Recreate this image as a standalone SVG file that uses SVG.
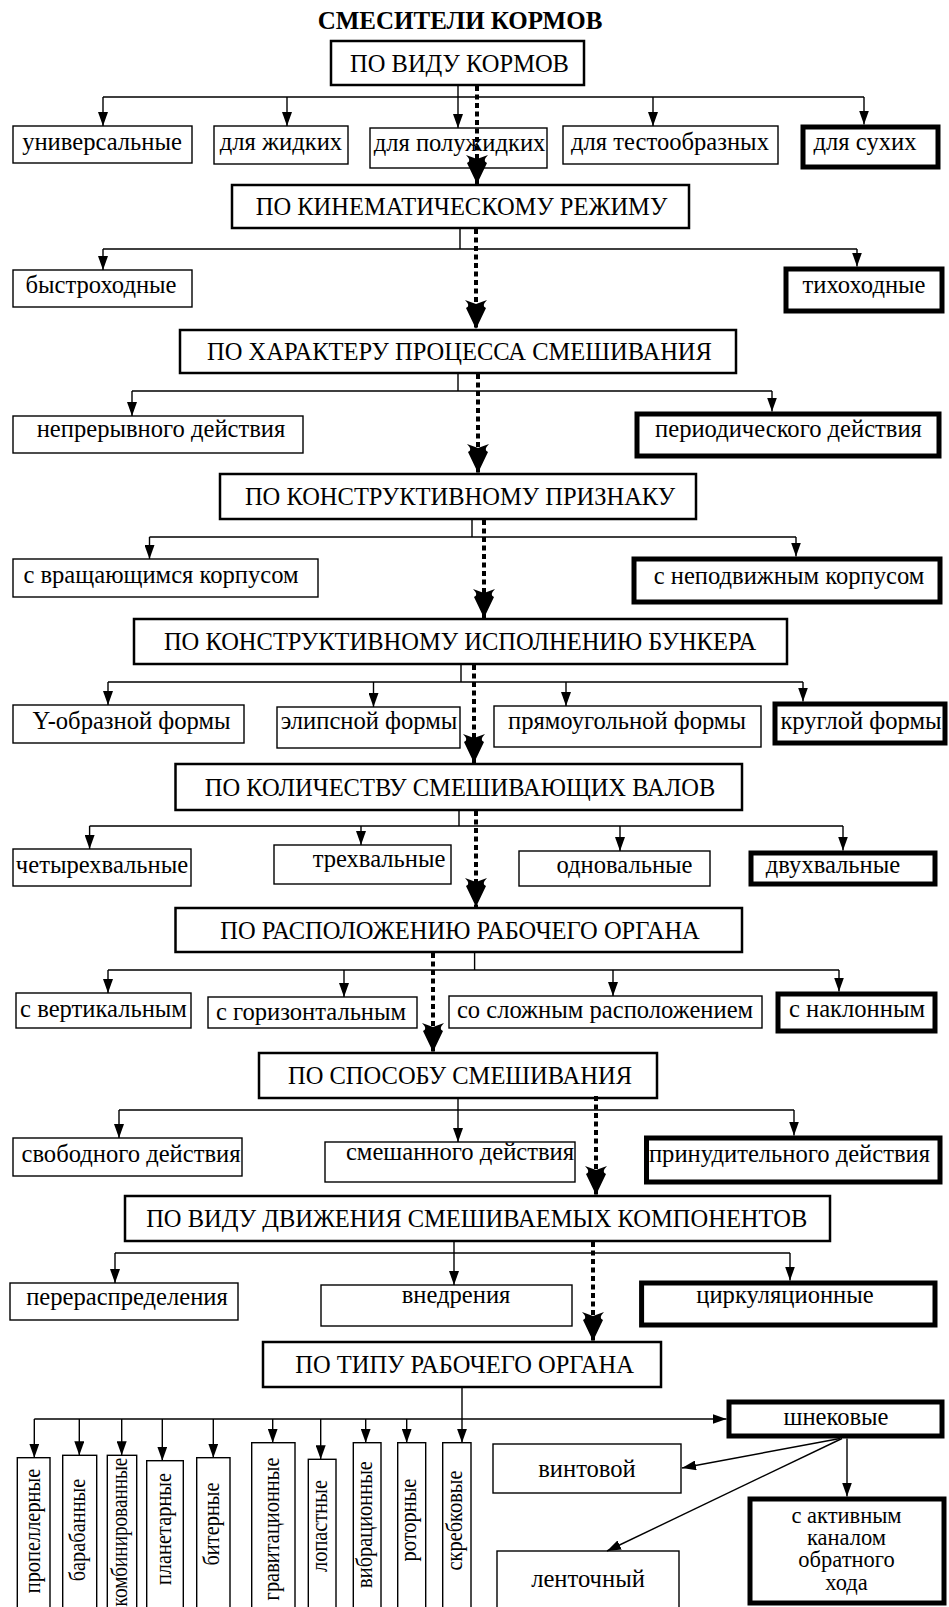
<svg xmlns="http://www.w3.org/2000/svg" width="949" height="1607" viewBox="0 0 949 1607">
<style>
.main{fill:#fff;stroke:#000;stroke-width:2.5}
.sub{fill:#fff;stroke:#000;stroke-width:1.4}
.thick{fill:#fff;stroke:#000;stroke-width:5}
text{font-family:"Liberation Serif","Times New Roman",serif;font-size:24.6px;fill:#000;text-anchor:middle}
.hd{font-size:24.5px}
.vt{font-size:24px}
.sm{font-size:22.5px}
.ttl{font-weight:bold;font-size:25px}
.ln{stroke:#000;stroke-width:1.4;fill:none}
.ar{stroke:#000;stroke-width:1.4;fill:none;marker-end:url(#a)}
.dot{stroke:#000;stroke-width:4;stroke-dasharray:5 3.5;fill:none;marker-end:url(#big)}
</style>
<defs>
<marker id="a" viewBox="0 0 14 10" refX="14" refY="5" markerWidth="14" markerHeight="10" markerUnits="userSpaceOnUse" orient="auto"><path d="M0,0 L14,5 L0,10 Z" fill="#000"/></marker>
<marker id="big" viewBox="0 0 29 22" refX="29" refY="11" markerWidth="29" markerHeight="22" markerUnits="userSpaceOnUse" orient="auto"><path d="M0,0 Q6,6 8,1 L29,11 L8,21 Q6,16 0,22 L4,11 Z" fill="#000"/></marker>
</defs>
<rect width="949" height="1607" fill="#fff"/>
<text class="ttl" x="460" y="29">СМЕСИТЕЛИ КОРМОВ</text>
<g id="nodes">
<g id="n1"><rect class="main" x="331" y="41" width="253" height="44"/><text class="hd" x="459.5" y="71.5">ПО ВИДУ КОРМОВ</text></g>
<g id="n1a"><rect class="sub" x="13" y="126" width="179" height="37"/><text x="102" y="150">универсальные</text></g>
<g id="n1b"><rect class="sub" x="214" y="126" width="134" height="38"/><text x="281" y="150">для жидких</text></g>
<g id="n1c"><rect class="sub" x="370" y="128" width="177" height="40"/><text x="459.5" y="151">для полужидких</text></g>
<g id="n1d"><rect class="sub" x="563" y="126" width="215" height="38"/><text x="670" y="150">для тестообразных</text></g>
<g id="n1e"><rect class="thick" x="803" y="127" width="135" height="40"/><text x="865" y="150">для сухих</text></g>

<g id="n2"><rect class="main" x="232" y="185" width="457" height="43"/><text class="hd" x="461.5" y="215">ПО КИНЕМАТИЧЕСКОМУ РЕЖИМУ</text></g>
<g id="n2a"><rect class="sub" x="13" y="270" width="179" height="37"/><text x="101" y="293">быстроходные</text></g>
<g id="n2b"><rect class="thick" x="786" y="269" width="156" height="42"/><text x="864" y="293">тихоходные</text></g>

<g id="n3"><rect class="main" x="180" y="330" width="556" height="43"/><text class="hd" x="459.5" y="360">ПО ХАРАКТЕРУ ПРОЦЕССА СМЕШИВАНИЯ</text></g>
<g id="n3a"><rect class="sub" x="13" y="416" width="290" height="37"/><text x="161" y="437">непрерывного действия</text></g>
<g id="n3b"><rect class="thick" x="637" y="414" width="302" height="42"/><text x="788.5" y="437">периодического действия</text></g>

<g id="n4"><rect class="main" x="220" y="474" width="476" height="45"/><text class="hd" x="460" y="505">ПО КОНСТРУКТИВНОМУ ПРИЗНАКУ</text></g>
<g id="n4a"><rect class="sub" x="13" y="559" width="305" height="38"/><text x="161" y="583">с вращающимся корпусом</text></g>
<g id="n4b"><rect class="thick" x="634" y="559" width="306" height="43"/><text x="789" y="584">с неподвижным корпусом</text></g>

<g id="n5"><rect class="main" x="134" y="619" width="653" height="45"/><text class="hd" x="460" y="650">ПО КОНСТРУКТИВНОМУ ИСПОЛНЕНИЮ БУНКЕРА</text></g>
<g id="n5a"><rect class="sub" x="13" y="705" width="231" height="38"/><text x="131.6" y="729">Y-образной формы</text></g>
<g id="n5b"><rect class="sub" x="277" y="707" width="183" height="41"/><text x="369" y="729">элипсной формы</text></g>
<g id="n5c"><rect class="sub" x="494" y="706" width="267" height="41"/><text x="627" y="729">прямоугольной формы</text></g>
<g id="n5d"><rect class="thick" x="775" y="704" width="170" height="39"/><text x="861" y="729">круглой формы</text></g>

<g id="n6"><rect class="main" x="175.5" y="764" width="566.5" height="46"/><text class="hd" x="460" y="796">ПО КОЛИЧЕСТВУ СМЕШИВАЮЩИХ ВАЛОВ</text></g>
<g id="n6a"><rect class="sub" x="13" y="849" width="178" height="37"/><text x="102" y="873">четырехвальные</text></g>
<g id="n6b"><rect class="sub" x="274" y="845" width="177" height="39"/><text x="379" y="867">трехвальные</text></g>
<g id="n6c"><rect class="sub" x="519" y="851" width="191" height="35"/><text x="624.5" y="873">одновальные</text></g>
<g id="n6d"><rect class="thick" x="751" y="853" width="184" height="31"/><text x="833" y="873">двухвальные</text></g>

<g id="n7"><rect class="main" x="175.5" y="908" width="566.5" height="44"/><text class="hd" x="460" y="939">ПО РАСПОЛОЖЕНИЮ РАБОЧЕГО ОРГАНА</text></g>
<g id="n7a"><rect class="sub" x="16" y="993" width="175" height="35"/><text x="103.5" y="1017">с вертикальным</text></g>
<g id="n7b"><rect class="sub" x="208" y="997" width="209" height="31"/><text x="311" y="1020">с горизонтальным</text></g>
<g id="n7c"><rect class="sub" x="449" y="996" width="313" height="32"/><text x="605" y="1018">со сложным расположением</text></g>
<g id="n7d"><rect class="thick" x="778" y="994" width="157" height="37"/><text x="857" y="1017">с наклонным</text></g>

<g id="n8"><rect class="main" x="259" y="1053" width="398" height="45"/><text class="hd" x="460" y="1084">ПО СПОСОБУ СМЕШИВАНИЯ</text></g>
<g id="n8a"><rect class="sub" x="13" y="1138" width="229" height="38"/><text x="131" y="1162">свободного действия</text></g>
<g id="n8b"><rect class="sub" x="325" y="1142" width="250" height="40"/><text x="460" y="1160">смешанного действия</text></g>
<g id="n8c"><rect class="thick" x="646.5" y="1138" width="293.5" height="44"/><text x="789.5" y="1162">принудительного действия</text></g>

<g id="n9"><rect class="main" x="125" y="1196" width="705" height="45"/><text class="hd" x="476.7" y="1227">ПО ВИДУ ДВИЖЕНИЯ СМЕШИВАЕМЫХ КОМПОНЕНТОВ</text></g>
<g id="n9a"><rect class="sub" x="10" y="1283" width="228" height="37"/><text x="127" y="1305">перераспределения</text></g>
<g id="n9b"><rect class="sub" x="321" y="1285" width="251" height="41"/><text x="456" y="1303">внедрения</text></g>
<g id="n9c"><rect class="thick" x="641.6" y="1283" width="293.4" height="42"/><text x="785" y="1303">циркуляционные</text></g>

<g id="n10"><rect class="main" x="263" y="1342" width="398" height="45"/><text class="hd" x="464.6" y="1373">ПО ТИПУ РАБОЧЕГО ОРГАНА</text></g>
<g id="v1"><rect class="sub" x="17.3" y="1457.7" width="32.7" height="160"/><text class="vt" transform="translate(40,1531) rotate(-90) scale(0.85,1)">пропеллерные</text></g>
<g id="v2"><rect class="sub" x="62.7" y="1455.3" width="34" height="160"/><text class="vt" transform="translate(85,1530) rotate(-90) scale(0.85,1)">барабанные</text></g>
<g id="v3"><rect class="sub" x="107.3" y="1455.3" width="29.4" height="160"/><text class="vt" transform="translate(127,1532) rotate(-90) scale(0.8,1)">комбинированные</text></g>
<g id="v4"><rect class="sub" x="146.7" y="1460.7" width="36.6" height="160"/><text class="vt" transform="translate(171,1529) rotate(-90) scale(0.85,1)">планетарные</text></g>
<g id="v5"><rect class="sub" x="196.7" y="1457.7" width="33.3" height="160"/><text class="vt" transform="translate(219,1524) rotate(-90) scale(0.85,1)">битерные</text></g>
<g id="v6"><rect class="sub" x="251.7" y="1442.7" width="43.3" height="170"/><text class="vt" transform="translate(278.5,1529) rotate(-90) scale(0.85,1)">гравитационные</text></g>
<g id="v7"><rect class="sub" x="308.3" y="1459.3" width="27.7" height="160"/><text class="vt" transform="translate(327,1526) rotate(-90) scale(0.85,1)">лопастные</text></g>
<g id="v8"><rect class="sub" x="353.3" y="1442.7" width="27.7" height="170"/><text class="vt" transform="translate(372,1524.5) rotate(-90) scale(0.85,1)">вибрационные</text></g>
<g id="v9"><rect class="sub" x="397.7" y="1442.7" width="28" height="170"/><text class="vt" transform="translate(416,1520) rotate(-90) scale(0.85,1)">роторные</text></g>
<g id="v10"><rect class="sub" x="442.7" y="1442.7" width="28.3" height="170"/><text class="vt" transform="translate(462,1520.5) rotate(-90) scale(0.85,1)">скребковые</text></g>
<g id="s0"><rect class="thick" x="729" y="1402" width="213" height="34"/><text x="836" y="1425">шнековые</text></g>
<g id="s1"><rect class="sub" x="493" y="1444" width="188" height="49"/><text x="587" y="1477">винтовой</text></g>
<g id="s2"><rect class="sub" x="497" y="1551" width="182" height="70"/><text x="588" y="1587">ленточный</text></g>
<g id="s3"><rect class="thick" x="750" y="1499" width="194" height="104"/><text class="sm" x="846.5" y="1523">с активным</text><text class="sm" x="846.5" y="1545">каналом</text><text class="sm" x="846.5" y="1567">обратного</text><text class="sm" x="846.5" y="1590">хода</text></g>
</g>
<g id="connectors">
<path class="ln" d="M458,85V97M103,97H864"/>
<path class="ar" d="M103,97V126"/><path class="ar" d="M287,97V126"/><path class="ar" d="M458,97V128"/><path class="ar" d="M653,97V126"/><path class="ar" d="M864,97V124.5"/>
<path class="ln" d="M460,228V249M103,249H857"/>
<path class="ar" d="M103,249V270"/><path class="ar" d="M857,249V266.5"/>
<path class="ln" d="M458,373V391M132,391H772"/>
<path class="ar" d="M132,391V416"/><path class="ar" d="M772,391V411.5"/>
<path class="ln" d="M472,519V537M149.5,537H796"/>
<path class="ar" d="M149.5,537V559"/><path class="ar" d="M796,537V556.5"/>
<path class="ln" d="M461,664V682M108,682H803"/>
<path class="ar" d="M108,682V705"/><path class="ar" d="M373.5,682V707"/><path class="ar" d="M566,682V706"/><path class="ar" d="M803,682V701.5"/>
<path class="ln" d="M459,810V826M89.6,826H843"/>
<path class="ar" d="M89.6,826V849"/><path class="ar" d="M361,826V845"/><path class="ar" d="M620,826V851"/><path class="ar" d="M843,826V850.5"/>
<path class="ln" d="M474.6,952V970M108,970H839"/>
<path class="ar" d="M108,970V993"/><path class="ar" d="M344,970V997"/><path class="ar" d="M613,970V996"/><path class="ar" d="M839,970V991.5"/>
<path class="ln" d="M119,1110H794"/>
<path class="ar" d="M458,1098V1142"/><path class="ar" d="M119,1110V1138"/><path class="ar" d="M794,1110V1135.5"/>
<path class="ln" d="M115,1253H790"/>
<path class="ar" d="M454,1241V1285"/><path class="ar" d="M115,1253V1283"/><path class="ar" d="M790,1253V1280.5"/>
<path class="ar" d="M462,1387V1442.7"/>
<path class="ar" d="M34.3,1419H726.5"/>
<path class="ar" d="M34.3,1419V1457.7"/><path class="ar" d="M79.3,1419V1455.3"/><path class="ar" d="M121.7,1419V1455.3"/><path class="ar" d="M162.3,1419V1460.7"/><path class="ar" d="M213.3,1419V1457.7"/><path class="ar" d="M272.7,1419V1442.7"/><path class="ar" d="M320.7,1419V1459.3"/><path class="ar" d="M365.7,1419V1442.7"/><path class="ar" d="M406.7,1419V1442.7"/>
<path class="ar" d="M840,1438.5L682,1468"/>
<path class="ar" d="M842,1438.5L607,1551"/>
<path class="ar" d="M847,1438.5V1496.5"/>
<path class="dot" d="M477,86V184"/>
<path class="dot" d="M476,229V329"/>
<path class="dot" d="M478,374V473"/>
<path class="dot" d="M484,520V618"/>
<path class="dot" d="M474,665V763"/>
<path class="dot" d="M476,811V907"/>
<path class="dot" d="M433,953V1052"/>
<path class="dot" d="M596,1096V1195"/>
<path class="dot" d="M593,1242V1341"/>
</g>
</svg>
